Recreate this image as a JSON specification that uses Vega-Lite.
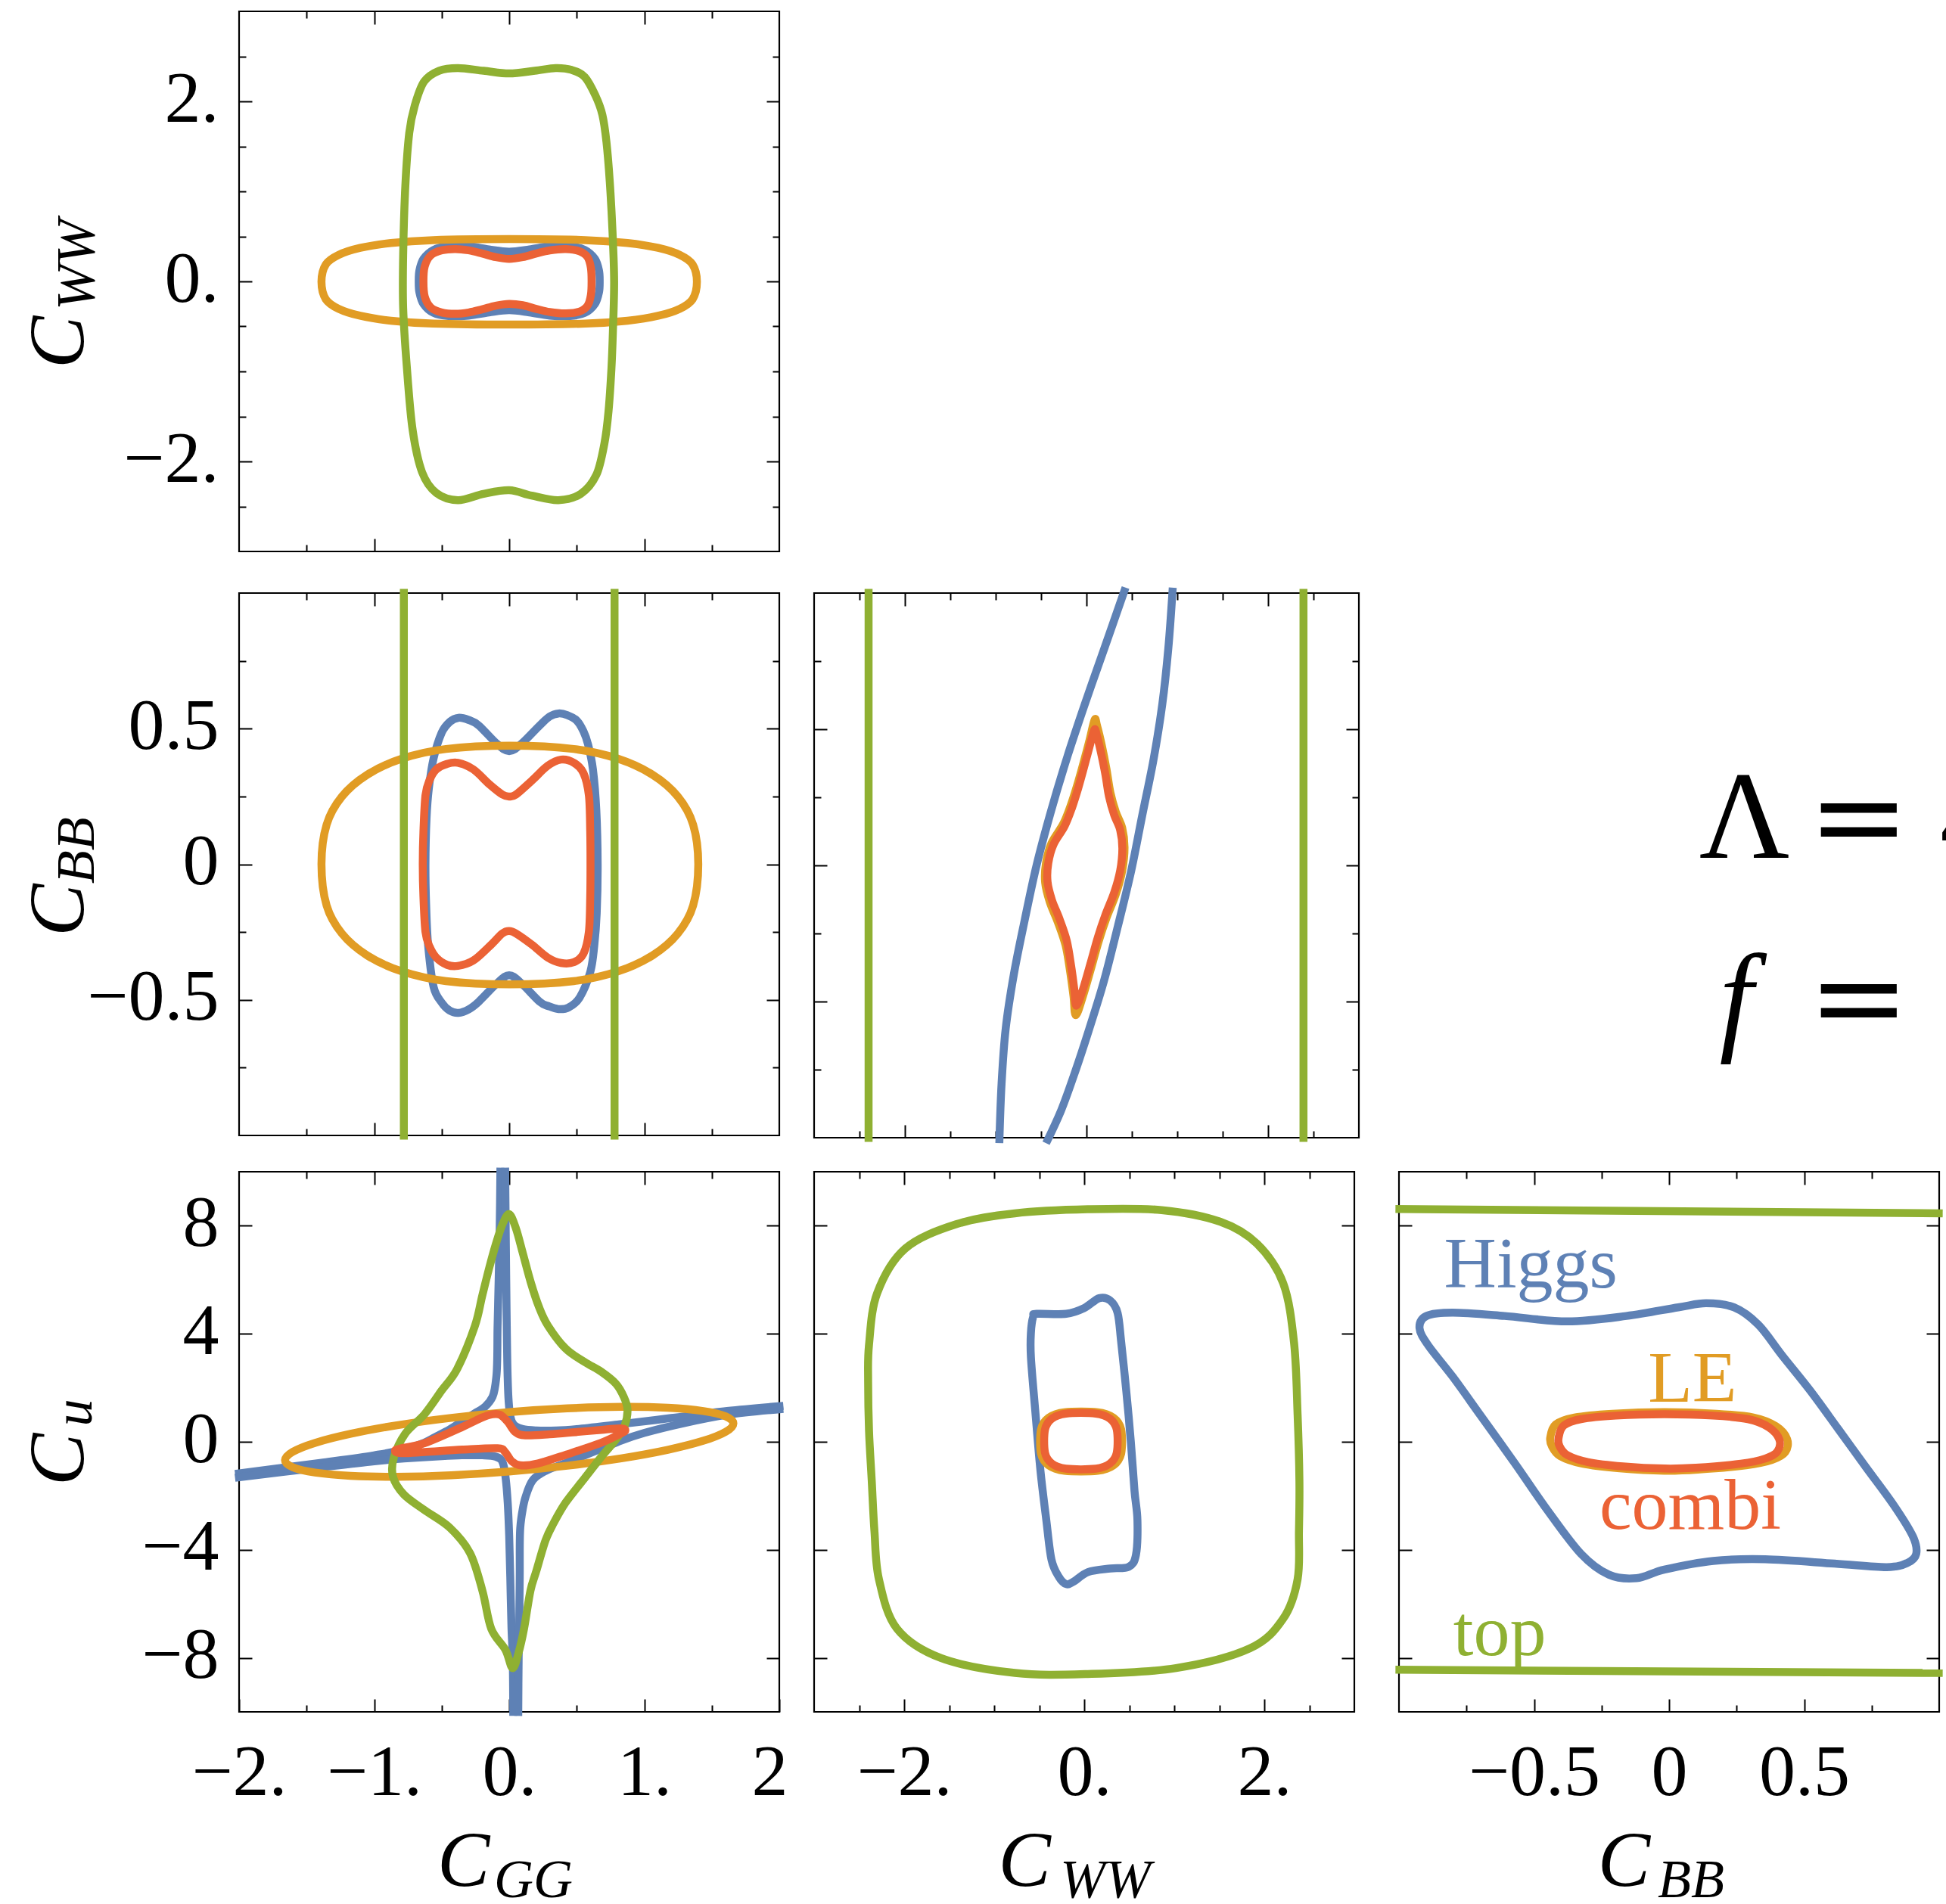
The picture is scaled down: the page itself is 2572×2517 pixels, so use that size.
{
"$schema": "https://vega.github.io/schema/vega-lite/v6.json",
"background": "white",
"padding": {"left": 25, "top": 12, "right": 0, "bottom": 0},
"config": {
  "view": {"stroke": "#000000", "strokeWidth": 2.2},
  "axis": {"grid": false, "domain": false, "tickColor": "#000000", "tickWidth": 2, "labelFont": "Liberation Serif", "labelFontSize": 96, "labelColor": "#000000", "labelOverlap": false, "labelBound": false, "labelFlush": false},
  "text": {"font": "Liberation Serif", "color": "#000000"}
},
"datasets": {
  "p1_higgs": [{"x":0,"y":0.33},{"x":0.15,"y":0.355},{"x":0.3,"y":0.39},{"x":0.45,"y":0.39},{"x":0.56,"y":0.35},{"x":0.635,"y":0.25},{"x":0.665,"y":0.12},{"x":0.67,"y":0},{"x":0.665,"y":-0.12},{"x":0.635,"y":-0.25},{"x":0.56,"y":-0.35},{"x":0.45,"y":-0.385},{"x":0.3,"y":-0.38},{"x":0.15,"y":-0.345},{"x":0,"y":-0.32},{"x":-0.15,"y":-0.345},{"x":-0.3,"y":-0.38},{"x":-0.45,"y":-0.385},{"x":-0.56,"y":-0.35},{"x":-0.635,"y":-0.25},{"x":-0.665,"y":-0.12},{"x":-0.67,"y":0},{"x":-0.665,"y":0.12},{"x":-0.635,"y":0.25},{"x":-0.56,"y":0.35},{"x":-0.45,"y":0.39},{"x":-0.3,"y":0.39},{"x":-0.15,"y":0.355}],
  "p1_le": [{"x":1.39,"y":-0.005},{"x":1.358,"y":0.188},{"x":1.263,"y":0.294},{"x":1.103,"y":0.372},{"x":0.876,"y":0.427},{"x":0.564,"y":0.459},{"x":0,"y":0.47},{"x":-0.564,"y":0.459},{"x":-0.876,"y":0.427},{"x":-1.103,"y":0.372},{"x":-1.263,"y":0.294},{"x":-1.358,"y":0.188},{"x":-1.39,"y":-0.005},{"x":-1.358,"y":-0.198},{"x":-1.263,"y":-0.304},{"x":-1.103,"y":-0.382},{"x":-0.876,"y":-0.437},{"x":-0.564,"y":-0.469},{"x":0,"y":-0.48},{"x":0.564,"y":-0.469},{"x":0.876,"y":-0.437},{"x":1.103,"y":-0.382},{"x":1.263,"y":-0.304},{"x":1.358,"y":-0.198}],
  "p1_top": [{"x":0,"y":2.31},{"x":0.19,"y":2.34},{"x":0.344,"y":2.37},{"x":0.46,"y":2.35},{"x":0.56,"y":2.27},{"x":0.64,"y":2.06},{"x":0.69,"y":1.85},{"x":0.72,"y":1.55},{"x":0.745,"y":1.1},{"x":0.765,"y":0.55},{"x":0.777,"y":0},{"x":0.768,"y":-0.55},{"x":0.757,"y":-0.97},{"x":0.735,"y":-1.45},{"x":0.705,"y":-1.8},{"x":0.645,"y":-2.15},{"x":0.53,"y":-2.36},{"x":0.364,"y":-2.43},{"x":0.167,"y":-2.38},{"x":0,"y":-2.32},{"x":-0.19,"y":-2.36},{"x":-0.38,"y":-2.43},{"x":-0.54,"y":-2.35},{"x":-0.645,"y":-2.12},{"x":-0.715,"y":-1.65},{"x":-0.757,"y":-0.97},{"x":-0.785,"y":-0.3},{"x":-0.785,"y":0.3},{"x":-0.769,"y":1.06},{"x":-0.74,"y":1.65},{"x":-0.7,"y":1.95},{"x":-0.63,"y":2.22},{"x":-0.52,"y":2.34},{"x":-0.38,"y":2.37},{"x":-0.19,"y":2.34}],
  "p1_combi": [{"x":0,"y":0.25},{"x":0.1,"y":0.27},{"x":0.2,"y":0.31},{"x":0.3,"y":0.345},{"x":0.42,"y":0.36},{"x":0.52,"y":0.335},{"x":0.58,"y":0.27},{"x":0.605,"y":0.15},{"x":0.61,"y":0},{"x":0.605,"y":-0.15},{"x":0.58,"y":-0.27},{"x":0.52,"y":-0.335},{"x":0.42,"y":-0.355},{"x":0.3,"y":-0.34},{"x":0.2,"y":-0.305},{"x":0.1,"y":-0.265},{"x":0,"y":-0.25},{"x":-0.1,"y":-0.27},{"x":-0.2,"y":-0.31},{"x":-0.3,"y":-0.345},{"x":-0.4,"y":-0.36},{"x":-0.5,"y":-0.345},{"x":-0.58,"y":-0.29},{"x":-0.625,"y":-0.17},{"x":-0.635,"y":0},{"x":-0.625,"y":0.17},{"x":-0.58,"y":0.29},{"x":-0.5,"y":0.345},{"x":-0.4,"y":0.36},{"x":-0.3,"y":0.345},{"x":-0.2,"y":0.31},{"x":-0.1,"y":0.27}],
  "p2_higgs": [{"x":0,"y":0.417},{"x":0.09,"y":0.444},{"x":0.226,"y":0.512},{"x":0.3,"y":0.545},{"x":0.365,"y":0.556},{"x":0.43,"y":0.55},{"x":0.5,"y":0.53},{"x":0.55,"y":0.49},{"x":0.585,"y":0.44},{"x":0.62,"y":0.35},{"x":0.645,"y":0.2},{"x":0.655,"y":0},{"x":0.648,"y":-0.18},{"x":0.63,"y":-0.3},{"x":0.6,"y":-0.398},{"x":0.52,"y":-0.493},{"x":0.44,"y":-0.528},{"x":0.365,"y":-0.534},{"x":0.29,"y":-0.523},{"x":0.226,"y":-0.507},{"x":0.09,"y":-0.439},{"x":0,"y":-0.409},{"x":-0.09,"y":-0.439},{"x":-0.226,"y":-0.507},{"x":-0.3,"y":-0.535},{"x":-0.376,"y":-0.548},{"x":-0.44,"y":-0.54},{"x":-0.5,"y":-0.51},{"x":-0.56,"y":-0.452},{"x":-0.6,"y":-0.3},{"x":-0.615,"y":-0.15},{"x":-0.62,"y":0},{"x":-0.612,"y":0.17},{"x":-0.595,"y":0.28},{"x":-0.56,"y":0.39},{"x":-0.5,"y":0.485},{"x":-0.44,"y":0.525},{"x":-0.376,"y":0.54},{"x":-0.3,"y":0.532},{"x":-0.226,"y":0.512},{"x":-0.09,"y":0.444}],
  "p2_le": [{"x":1.4,"y":0},{"x":1.362,"y":0.146},{"x":1.248,"y":0.25},{"x":1.062,"y":0.33},{"x":0.806,"y":0.389},{"x":0.478,"y":0.425},{"x":0.005,"y":0.437},{"x":-0.468,"y":0.425},{"x":-0.796,"y":0.389},{"x":-1.052,"y":0.33},{"x":-1.238,"y":0.25},{"x":-1.352,"y":0.146},{"x":-1.39,"y":0},{"x":-1.352,"y":-0.152},{"x":-1.238,"y":-0.256},{"x":-1.052,"y":-0.336},{"x":-0.796,"y":-0.395},{"x":-0.468,"y":-0.431},{"x":0.005,"y":-0.443},{"x":0.478,"y":-0.431},{"x":0.806,"y":-0.395},{"x":1.062,"y":-0.336},{"x":1.248,"y":-0.256},{"x":1.362,"y":-0.152}],
  "p2_top": [{"k":0,"x":-0.78,"y":-1.015},{"k":0,"x":-0.78,"y":1.015},{"k":1,"x":0.78,"y":-1.015},{"k":1,"x":0.78,"y":1.015}],
  "p2_combi": [{"x":0,"y":0.25},{"x":0.05,"y":0.257},{"x":0.167,"y":0.308},{"x":0.285,"y":0.363},{"x":0.384,"y":0.386},{"x":0.48,"y":0.374},{"x":0.55,"y":0.336},{"x":0.59,"y":0.254},{"x":0.6,"y":0.12},{"x":0.602,"y":0},{"x":0.6,"y":-0.12},{"x":0.59,"y":-0.249},{"x":0.55,"y":-0.33},{"x":0.48,"y":-0.361},{"x":0.384,"y":-0.364},{"x":0.285,"y":-0.344},{"x":0.167,"y":-0.296},{"x":0.05,"y":-0.255},{"x":0,"y":-0.246},{"x":-0.05,"y":-0.255},{"x":-0.147,"y":-0.303},{"x":-0.266,"y":-0.355},{"x":-0.38,"y":-0.375},{"x":-0.46,"y":-0.371},{"x":-0.54,"y":-0.344},{"x":-0.59,"y":-0.303},{"x":-0.62,"y":-0.249},{"x":-0.635,"y":-0.12},{"x":-0.64,"y":0},{"x":-0.635,"y":0.12},{"x":-0.62,"y":0.254},{"x":-0.59,"y":0.31},{"x":-0.54,"y":0.35},{"x":-0.46,"y":0.37},{"x":-0.38,"y":0.374},{"x":-0.266,"y":0.35},{"x":-0.147,"y":0.295},{"x":-0.05,"y":0.257}],
  "p3_higgs": [{"k":0,"x":0.43,"y":1.02},{"k":0,"x":0.2,"y":0.8},{"k":0,"x":-0.01,"y":0.6},{"k":0,"x":-0.21,"y":0.4},{"k":0,"x":-0.39,"y":0.2},{"k":0,"x":-0.55,"y":0},{"k":0,"x":-0.68,"y":-0.2},{"k":0,"x":-0.8,"y":-0.4},{"k":0,"x":-0.89,"y":-0.6},{"k":0,"x":-0.935,"y":-0.8},{"k":0,"x":-0.96,"y":-1.02},{"k":1,"x":0.95,"y":1.02},{"k":1,"x":0.901,"y":0.796},{"k":1,"x":0.835,"y":0.592},{"k":1,"x":0.738,"y":0.388},{"k":1,"x":0.615,"y":0.185},{"k":1,"x":0.493,"y":-0.019},{"k":1,"x":0.346,"y":-0.223},{"k":1,"x":0.191,"y":-0.426},{"k":1,"x":0.028,"y":-0.603},{"k":1,"x":-0.119,"y":-0.752},{"k":1,"x":-0.282,"y":-0.902},{"k":1,"x":-0.445,"y":-1.02}],
  "p3_le": [{"x":0.09,"y":0.535},{"x":0.03,"y":0.455},{"x":-0.039,"y":0.369},{"x":-0.1,"y":0.297},{"x":-0.169,"y":0.225},{"x":-0.255,"y":0.153},{"x":-0.386,"y":0.081},{"x":-0.446,"y":0.008},{"x":-0.455,"y":-0.064},{"x":-0.403,"y":-0.136},{"x":-0.316,"y":-0.208},{"x":-0.23,"y":-0.294},{"x":-0.178,"y":-0.394},{"x":-0.143,"y":-0.48},{"x":-0.118,"y":-0.55},{"x":-0.039,"y":-0.48},{"x":0.048,"y":-0.381},{"x":0.134,"y":-0.279},{"x":0.22,"y":-0.193},{"x":0.323,"y":-0.106},{"x":0.393,"y":-0.02},{"x":0.419,"y":0.066},{"x":0.393,"y":0.138},{"x":0.323,"y":0.196},{"x":0.263,"y":0.268},{"x":0.22,"y":0.354},{"x":0.169,"y":0.44},{"x":0.117,"y":0.512}],
  "p3_top": [{"k":0,"x":-2.4,"y":-1.015},{"k":0,"x":-2.4,"y":1.015},{"k":1,"x":2.39,"y":-1.015},{"k":1,"x":2.39,"y":1.015}],
  "p3_combi": [{"x":0.085,"y":0.497},{"x":0.028,"y":0.429},{"x":-0.037,"y":0.348},{"x":-0.094,"y":0.28},{"x":-0.159,"y":0.212},{"x":-0.241,"y":0.144},{"x":-0.364,"y":0.076},{"x":-0.421,"y":0.008},{"x":-0.429,"y":-0.06},{"x":-0.38,"y":-0.128},{"x":-0.298,"y":-0.196},{"x":-0.217,"y":-0.277},{"x":-0.168,"y":-0.372},{"x":-0.135,"y":-0.453},{"x":-0.111,"y":-0.515},{"x":-0.037,"y":-0.453},{"x":0.045,"y":-0.359},{"x":0.126,"y":-0.263},{"x":0.208,"y":-0.182},{"x":0.305,"y":-0.1},{"x":0.371,"y":-0.019},{"x":0.395,"y":0.062},{"x":0.371,"y":0.13},{"x":0.305,"y":0.185},{"x":0.248,"y":0.253},{"x":0.208,"y":0.334},{"x":0.159,"y":0.415},{"x":0.11,"y":0.483}],
  "p4_higgs": [{"k":0,"x":-0.065,"y":10.15},{"k":0,"x":-0.07,"y":8},{"k":0,"x":-0.078,"y":6},{"k":0,"x":-0.086,"y":4.3},{"k":0,"x":-0.095,"y":2.42},{"k":0,"x":-0.123,"y":1.67},{"k":0,"x":-0.179,"y":1.3},{"k":0,"x":-0.254,"y":1.06},{"k":0,"x":-0.33,"y":0.82},{"k":0,"x":-0.44,"y":0.46},{"k":0,"x":-0.55,"y":0.17},{"k":0,"x":-0.627,"y":-0.03},{"k":0,"x":-0.78,"y":-0.29},{"k":0,"x":-1.0,"y":-0.5},{"k":0,"x":-1.4,"y":-0.78},{"k":0,"x":-2.03,"y":-1.19},
    {"k":1,"x":-0.03,"y":10.15},{"k":1,"x":-0.026,"y":8},{"k":1,"x":-0.022,"y":6},{"k":1,"x":-0.018,"y":4.3},{"k":1,"x":-0.012,"y":2.5},{"k":1,"x":-0.004,"y":1.5},{"k":1,"x":0.008,"y":0.95},{"k":1,"x":0.025,"y":0.7},{"k":1,"x":0.05,"y":0.57},{"k":1,"x":0.1,"y":0.47},{"k":1,"x":0.2,"y":0.42},{"k":1,"x":0.35,"y":0.42},{"k":1,"x":0.5,"y":0.47},{"k":1,"x":0.8,"y":0.64},{"k":1,"x":1.2,"y":0.88},{"k":1,"x":1.613,"y":1.14},{"k":1,"x":2.03,"y":1.33},
    {"k":2,"x":0.03,"y":-10.15},{"k":2,"x":0.026,"y":-8},{"k":2,"x":0.017,"y":-6.9},{"k":2,"x":0.008,"y":-5},{"k":2,"x":0,"y":-3.5},{"k":2,"x":-0.011,"y":-2.25},{"k":2,"x":-0.025,"y":-1.4},{"k":2,"x":-0.04,"y":-0.9},{"k":2,"x":-0.06,"y":-0.66},{"k":2,"x":-0.1,"y":-0.55},{"k":2,"x":-0.2,"y":-0.5},{"k":2,"x":-0.35,"y":-0.5},{"k":2,"x":-0.5,"y":-0.53},{"k":2,"x":-0.78,"y":-0.62},{"k":2,"x":-1.0,"y":-0.72},{"k":2,"x":-1.4,"y":-0.95},{"k":2,"x":-2.03,"y":-1.33},
    {"k":3,"x":0.067,"y":-10.15},{"k":3,"x":0.07,"y":-8},{"k":3,"x":0.074,"y":-6.9},{"k":3,"x":0.078,"y":-5},{"k":3,"x":0.082,"y":-3.18},{"k":3,"x":0.1,"y":-2.5},{"k":3,"x":0.12,"y":-2.06},{"k":3,"x":0.176,"y":-1.41},{"k":3,"x":0.269,"y":-1.08},{"k":3,"x":0.4,"y":-0.82},{"k":3,"x":0.55,"y":-0.52},{"k":3,"x":0.7,"y":-0.22},{"k":3,"x":0.83,"y":0.05},{"k":3,"x":1.0,"y":0.33},{"k":3,"x":1.3,"y":0.7},{"k":3,"x":1.613,"y":1.0},{"k":3,"x":2.03,"y":1.22}],
  "p4_le": [{"x":1.66,"y":0.68},{"x":1.603,"y":0.942},{"x":1.438,"y":1.139},{"x":1.174,"y":1.259},{"x":0.83,"y":1.293},{"x":0.43,"y":1.238},{"x":0,"y":1.1},{"x":-0.43,"y":0.886},{"x":-0.83,"y":0.613},{"x":-1.174,"y":0.297},{"x":-1.438,"y":-0.039},{"x":-1.603,"y":-0.372},{"x":-1.66,"y":-0.68},{"x":-1.603,"y":-0.942},{"x":-1.438,"y":-1.139},{"x":-1.174,"y":-1.259},{"x":-0.83,"y":-1.293},{"x":-0.43,"y":-1.238},{"x":0,"y":-1.1},{"x":0.43,"y":-0.886},{"x":0.83,"y":-0.613},{"x":1.174,"y":-0.297},{"x":1.438,"y":0.039},{"x":1.603,"y":0.372}],
  "p4_top": [{"x":0,"y":8.43},{"x":0.05,"y":7.9},{"x":0.1,"y":7.0},{"x":0.16,"y":5.9},{"x":0.22,"y":5.0},{"x":0.287,"y":4.3},{"x":0.418,"y":3.45},{"x":0.56,"y":2.95},{"x":0.68,"y":2.6},{"x":0.79,"y":2.15},{"x":0.848,"y":1.67},{"x":0.876,"y":1.2},{"x":0.855,"y":0.6},{"x":0.79,"y":0.08},{"x":0.68,"y":-0.57},{"x":0.55,"y":-1.4},{"x":0.418,"y":-2.25},{"x":0.33,"y":-3.0},{"x":0.269,"y":-3.65},{"x":0.2,"y":-4.8},{"x":0.157,"y":-5.52},{"x":0.11,"y":-6.92},{"x":0.07,"y":-7.8},{"x":0.025,"y":-8.38},{"x":-0.028,"y":-7.7},{"x":-0.133,"y":-6.92},{"x":-0.198,"y":-5.52},{"x":-0.29,"y":-4.12},{"x":-0.44,"y":-3.18},{"x":-0.627,"y":-2.53},{"x":-0.78,"y":-1.95},{"x":-0.86,"y":-1.3},{"x":-0.855,"y":-0.6},{"x":-0.77,"y":0.3},{"x":-0.627,"y":1.02},{"x":-0.5,"y":1.9},{"x":-0.385,"y":2.7},{"x":-0.254,"y":4.29},{"x":-0.2,"y":5.4},{"x":-0.15,"y":6.4},{"x":-0.1,"y":7.3},{"x":-0.05,"y":8.05}],
  "p4_combi": [{"x":-0.845,"y":-0.33},{"x":-0.8,"y":-0.24},{"x":-0.627,"y":-0.05},{"x":-0.347,"y":0.55},{"x":-0.2,"y":0.9},{"x":-0.123,"y":1.02},{"x":-0.067,"y":1.0},{"x":-0.011,"y":0.74},{"x":0.045,"y":0.36},{"x":0.12,"y":0.24},{"x":0.3,"y":0.28},{"x":0.493,"y":0.36},{"x":0.7,"y":0.45},{"x":0.829,"y":0.5},{"x":0.86,"y":0.42},{"x":0.829,"y":0.31},{"x":0.68,"y":-0.04},{"x":0.418,"y":-0.48},{"x":0.213,"y":-0.8},{"x":0.082,"y":-0.87},{"x":0.017,"y":-0.71},{"x":-0.03,"y":-0.38},{"x":-0.086,"y":-0.24},{"x":-0.347,"y":-0.29},{"x":-0.627,"y":-0.38},{"x":-0.8,"y":-0.42}],
  "p5_higgs": [{"x":-0.567,"y":4.63},{"x":-0.527,"y":4.74},{"x":-0.2,"y":4.74},{"x":0.003,"y":4.96},{"x":0.167,"y":5.32},{"x":0.289,"y":5.23},{"x":0.371,"y":4.77},{"x":0.411,"y":3.68},{"x":0.468,"y":1.85},{"x":0.517,"y":0.03},{"x":0.558,"y":-1.8},{"x":0.591,"y":-2.9},{"x":0.575,"y":-4.18},{"x":0.493,"y":-4.63},{"x":0.289,"y":-4.69},{"x":0.044,"y":-4.82},{"x":-0.119,"y":-5.18},{"x":-0.2,"y":-5.27},{"x":-0.282,"y":-5.0},{"x":-0.364,"y":-4.36},{"x":-0.421,"y":-2.9},{"x":-0.486,"y":-1.07},{"x":-0.543,"y":1.12},{"x":-0.592,"y":3.13},{"x":-0.592,"y":4.04}],
  "p5_le": [{"x":0.42,"y":0.01},{"x":0.41,"y":0.461},{"x":0.378,"y":0.709},{"x":0.326,"y":0.891},{"x":0.252,"y":1.018},{"x":0.15,"y":1.095},{"x":-0.035,"y":1.12},{"x":-0.22,"y":1.095},{"x":-0.322,"y":1.018},{"x":-0.396,"y":0.891},{"x":-0.448,"y":0.709},{"x":-0.48,"y":0.461},{"x":-0.49,"y":0.01},{"x":-0.48,"y":-0.441},{"x":-0.448,"y":-0.689},{"x":-0.396,"y":-0.871},{"x":-0.322,"y":-0.998},{"x":-0.22,"y":-1.075},{"x":-0.035,"y":-1.1},{"x":0.15,"y":-1.075},{"x":0.252,"y":-0.998},{"x":0.326,"y":-0.871},{"x":0.378,"y":-0.689},{"x":0.41,"y":-0.441}],
  "p5_top": [{"x":0.04,"y":8.61},{"x":0.86,"y":8.58},{"x":1.51,"y":8.15},{"x":1.92,"y":7.33},{"x":2.21,"y":5.87},{"x":2.33,"y":3.68},{"x":2.37,"y":1.0},{"x":2.39,"y":-1.44},{"x":2.385,"y":-3.3},{"x":2.37,"y":-5.09},{"x":2.21,"y":-6.55},{"x":1.84,"y":-7.65},{"x":1.02,"y":-8.38},{"x":0.04,"y":-8.6},{"x":-0.77,"y":-8.56},{"x":-1.59,"y":-8.01},{"x":-2.08,"y":-6.92},{"x":-2.28,"y":-5.09},{"x":-2.33,"y":-3.3},{"x":-2.36,"y":-1.44},{"x":-2.39,"y":0.4},{"x":-2.4,"y":2.22},{"x":-2.39,"y":3.6},{"x":-2.3,"y":5.5},{"x":-1.99,"y":7.15},{"x":-1.42,"y":8.06},{"x":-0.77,"y":8.46}],
  "p5_combi": [{"x":0.371,"y":0.025},{"x":0.362,"y":0.449},{"x":0.334,"y":0.683},{"x":0.287,"y":0.854},{"x":0.22,"y":0.974},{"x":0.129,"y":1.046},{"x":-0.037,"y":1.07},{"x":-0.203,"y":1.046},{"x":-0.294,"y":0.974},{"x":-0.361,"y":0.854},{"x":-0.408,"y":0.683},{"x":-0.436,"y":0.449},{"x":-0.445,"y":0.025},{"x":-0.436,"y":-0.399},{"x":-0.408,"y":-0.633},{"x":-0.361,"y":-0.804},{"x":-0.294,"y":-0.924},{"x":-0.203,"y":-0.996},{"x":-0.037,"y":-1.02},{"x":0.129,"y":-0.996},{"x":0.22,"y":-0.924},{"x":0.287,"y":-0.804},{"x":0.334,"y":-0.633},{"x":0.362,"y":-0.399}],
  "p6_higgs": [{"x":-0.924,"y":4.21},{"x":-0.898,"y":4.66},{"x":-0.801,"y":4.78},{"x":-0.609,"y":4.66},{"x":-0.377,"y":4.46},{"x":-0.158,"y":4.66},{"x":0.034,"y":4.98},{"x":0.137,"y":5.13},{"x":0.24,"y":4.98},{"x":0.33,"y":4.34},{"x":0.42,"y":3.18},{"x":0.523,"y":1.89},{"x":0.626,"y":0.48},{"x":0.729,"y":-0.94},{"x":0.832,"y":-2.35},{"x":0.903,"y":-3.51},{"x":0.915,"y":-4.15},{"x":0.883,"y":-4.48},{"x":0.806,"y":-4.64},{"x":0.613,"y":-4.51},{"x":0.356,"y":-4.35},{"x":0.163,"y":-4.41},{"x":-0.017,"y":-4.73},{"x":-0.12,"y":-5.05},{"x":-0.223,"y":-4.92},{"x":-0.326,"y":-4.15},{"x":-0.454,"y":-2.48},{"x":-0.57,"y":-0.81},{"x":-0.699,"y":0.99},{"x":-0.801,"y":2.41},{"x":-0.891,"y":3.56}],
  "p6_le": [{"x":-0.44,"y":0.15},{"x":-0.42,"y":0.64},{"x":-0.35,"y":0.9},{"x":-0.21,"y":1.04},{"x":-0.018,"y":1.1},{"x":0.175,"y":1.04},{"x":0.312,"y":0.9},{"x":0.395,"y":0.58},{"x":0.437,"y":0.1},{"x":0.43,"y":-0.38},{"x":0.38,"y":-0.67},{"x":0.285,"y":-0.87},{"x":0.106,"y":-1.03},{"x":-0.018,"y":-1.07},{"x":-0.183,"y":-0.98},{"x":-0.321,"y":-0.81},{"x":-0.403,"y":-0.53},{"x":-0.433,"y":-0.18}],
  "p6_top": [{"k":0,"x":-1.013,"y":8.62},{"k":0,"x":1.013,"y":8.46},{"k":1,"x":-1.013,"y":-8.44},{"k":1,"x":1.013,"y":-8.56}],
  "p6_combi": [{"x":-0.409,"y":0.15},{"x":-0.39,"y":0.6},{"x":-0.326,"y":0.84},{"x":-0.197,"y":0.97},{"x":-0.017,"y":1.02},{"x":0.163,"y":0.97},{"x":0.292,"y":0.84},{"x":0.369,"y":0.54},{"x":0.408,"y":0.09},{"x":0.401,"y":-0.36},{"x":0.356,"y":-0.62},{"x":0.266,"y":-0.81},{"x":0.099,"y":-0.96},{"x":-0.017,"y":-0.99},{"x":-0.171,"y":-0.91},{"x":-0.3,"y":-0.75},{"x":-0.377,"y":-0.49},{"x":-0.405,"y":-0.17}],
  "p6_labels": [{"s":"Higgs","x":-0.833,"y":5.72},{"s":"LE","x":-0.078,"y":1.48},{"s":"combi","x":-0.258,"y":-3.22},{"s":"top","x":-0.799,"y":-7.91}]
},
"concat": [
  {
    "width": 714, "height": 714,
    "layer": [
      {
        "encoding": {
          "x": {"field": "x", "type": "quantitative", "scale": {"domain": [-2, 2], "nice": false}, "axis": {"orient": "bottom", "title": null, "labels": false, "values": [-1.5,-1,-0.5,0,0.5,1,1.5], "tickSize": {"condition": {"test": "datum.value % 1 === 0", "value": -17}, "value": -9}}},
          "y": {"field": "y", "type": "quantitative", "scale": {"domain": [-3, 3], "nice": false}, "axis": {"orient": "left", "title": null, "values": [-2.5,-2,-1.5,-1,-0.5,0,0.5,1,1.5,2,2.5], "labelExpr": "datum.value % 2 === 0 ? (datum.value < 0 ? '−' : '') + abs(datum.value) + '.' : ''", "labelPadding": 44, "labelOffset": -3, "tickSize": {"condition": {"test": "datum.value % 2 === 0", "value": -17}, "value": -9}}},
          "order": {"field": "i", "type": "quantitative"}
        },
        "layer": [
          {"data": {"name": "p1_higgs"}, "transform": [{"window": [{"op": "row_number", "as": "i"}]}], "mark": {"type": "line", "color": "#5E81B5", "strokeWidth": 10.5, "interpolate": "cardinal-closed"}},
          {"data": {"name": "p1_le"}, "transform": [{"window": [{"op": "row_number", "as": "i"}]}], "mark": {"type": "line", "color": "#E19C24", "strokeWidth": 10.5, "interpolate": "cardinal-closed"}},
          {"data": {"name": "p1_top"}, "transform": [{"window": [{"op": "row_number", "as": "i"}]}], "mark": {"type": "line", "color": "#8FB032", "strokeWidth": 10.5, "interpolate": "cardinal-closed"}},
          {"data": {"name": "p1_combi"}, "transform": [{"window": [{"op": "row_number", "as": "i"}]}], "mark": {"type": "line", "color": "#EB6235", "strokeWidth": 10.5, "interpolate": "cardinal-closed"}}
        ]
      },
      {
        "data": {"values": [{}]},
        "mark": {"type": "point", "opacity": 0},
        "encoding": {
          "x": {"datum": 0, "type": "quantitative", "scale": {"domain": [-2, 2], "nice": false}, "axis": {"orient": "top", "title": null, "labels": false, "values": [-1.5,-1,-0.5,0,0.5,1,1.5], "tickSize": {"condition": {"test": "datum.value % 1 === 0", "value": -17}, "value": -9}}},
          "y": {"datum": 0, "type": "quantitative", "scale": {"domain": [-3, 3], "nice": false}, "axis": {"orient": "right", "title": null, "labels": false, "values": [-2.5,-2,-1.5,-1,-0.5,0,0.5,1,1.5,2,2.5], "tickSize": {"condition": {"test": "datum.value % 2 === 0", "value": -17}, "value": -9}}}
        }
      },
      {
        "data": {"values": [{}]},
        "mark": {"type": "text", "fontStyle": "italic", "fontSize": 104, "angle": 270, "align": "left", "baseline": "alphabetic"},
        "encoding": {"text": {"value": "C"}, "x": {"datum": -3.156, "type": "quantitative", "scale": {"domain": [-2, 2], "nice": false}, "axis": null}, "y": {"datum": -0.966, "type": "quantitative", "scale": {"domain": [-3, 3], "nice": false}, "axis": null}}
      },
      {
        "data": {"values": [{}]},
        "mark": {"type": "text", "fontStyle": "italic", "fontSize": 72, "angle": 270, "align": "left", "baseline": "alphabetic"},
        "encoding": {"text": {"value": "WW"}, "x": {"datum": -3.076, "type": "quantitative", "scale": {"domain": [-2, 2], "nice": false}, "axis": null}, "y": {"datum": -0.319, "type": "quantitative", "scale": {"domain": [-3, 3], "nice": false}, "axis": null}}
      }
    ],
    "resolve": {"axis": {"x": "independent", "y": "independent"}}
  },
  {"width": 727, "height": 724, "view": {"stroke": null}, "data": {"values": []}, "mark": "point"},
  {"width": 1, "height": 1, "view": {"stroke": null}, "data": {"values": []}, "mark": "point"},
  {
    "width": 714, "height": 717,
    "layer": [
      {
        "encoding": {
          "x": {"field": "x", "type": "quantitative", "scale": {"domain": [-2, 2], "nice": false}, "axis": {"orient": "bottom", "title": null, "labels": false, "values": [-1.5,-1,-0.5,0,0.5,1,1.5], "tickSize": {"condition": {"test": "datum.value % 1 === 0", "value": -17}, "value": -9}}},
          "y": {"field": "y", "type": "quantitative", "scale": {"domain": [-1, 1], "nice": false}, "axis": {"orient": "left", "title": null, "values": [-0.75,-0.5,-0.25,0,0.25,0.5,0.75], "labelExpr": "datum.value % 0.5 === 0 ? (datum.value < 0 ? '−' : '') + abs(datum.value) : ''", "labelPadding": 44, "labelOffset": -3, "tickSize": {"condition": {"test": "datum.value % 0.5 === 0", "value": -17}, "value": -9}}},
          "detail": {"field": "k", "type": "nominal"},
          "order": {"field": "i", "type": "quantitative"}
        },
        "layer": [
          {"data": {"name": "p2_higgs"}, "transform": [{"window": [{"op": "row_number", "as": "i"}]}], "mark": {"type": "line", "color": "#5E81B5", "strokeWidth": 10.5, "interpolate": "cardinal-closed"}},
          {"data": {"name": "p2_le"}, "transform": [{"window": [{"op": "row_number", "as": "i"}]}], "mark": {"type": "line", "color": "#E19C24", "strokeWidth": 10.5, "interpolate": "cardinal-closed"}},
          {"data": {"name": "p2_top"}, "transform": [{"window": [{"op": "row_number", "as": "i"}]}], "mark": {"type": "line", "color": "#8FB032", "strokeWidth": 10.5}},
          {"data": {"name": "p2_combi"}, "transform": [{"window": [{"op": "row_number", "as": "i"}]}], "mark": {"type": "line", "color": "#EB6235", "strokeWidth": 10.5, "interpolate": "cardinal-closed"}}
        ]
      },
      {
        "data": {"values": [{}]},
        "mark": {"type": "point", "opacity": 0},
        "encoding": {
          "x": {"datum": 0, "type": "quantitative", "scale": {"domain": [-2, 2], "nice": false}, "axis": {"orient": "top", "title": null, "labels": false, "values": [-1.5,-1,-0.5,0,0.5,1,1.5], "tickSize": {"condition": {"test": "datum.value % 1 === 0", "value": -17}, "value": -9}}},
          "y": {"datum": 0, "type": "quantitative", "scale": {"domain": [-1, 1], "nice": false}, "axis": {"orient": "right", "title": null, "labels": false, "values": [-0.75,-0.5,-0.25,0,0.25,0.5,0.75], "tickSize": {"condition": {"test": "datum.value % 0.5 === 0", "value": -17}, "value": -9}}}
        }
      },
      {
        "data": {"values": [{}]},
        "mark": {"type": "text", "fontStyle": "italic", "fontSize": 104, "angle": 270, "align": "left", "baseline": "alphabetic"},
        "encoding": {"text": {"value": "C"}, "x": {"datum": -3.156, "type": "quantitative", "scale": {"domain": [-2, 2], "nice": false}, "axis": null}, "y": {"datum": -0.266, "type": "quantitative", "scale": {"domain": [-1, 1], "nice": false}, "axis": null}}
      },
      {
        "data": {"values": [{}]},
        "mark": {"type": "text", "fontStyle": "italic", "fontSize": 72, "angle": 270, "align": "left", "baseline": "alphabetic"},
        "encoding": {"text": {"value": "BB"}, "x": {"datum": -3.076, "type": "quantitative", "scale": {"domain": [-2, 2], "nice": false}, "axis": null}, "y": {"datum": -0.072, "type": "quantitative", "scale": {"domain": [-1, 1], "nice": false}, "axis": null}}
      }
    ],
    "resolve": {"axis": {"x": "independent", "y": "independent"}}
  },
  {
    "width": 720, "height": 720,
    "layer": [
      {
        "encoding": {
          "x": {"field": "x", "type": "quantitative", "scale": {"domain": [-3, 3], "nice": false}, "axis": {"orient": "bottom", "title": null, "labels": false, "values": [-2.5,-2,-1.5,-1,-0.5,0,0.5,1,1.5,2,2.5], "tickSize": {"condition": {"test": "datum.value % 2 === 0", "value": -17}, "value": -9}}},
          "y": {"field": "y", "type": "quantitative", "scale": {"domain": [-1, 1], "nice": false}, "axis": {"orient": "left", "title": null, "labels": false, "values": [-0.75,-0.5,-0.25,0,0.25,0.5,0.75], "tickSize": {"condition": {"test": "datum.value % 0.5 === 0", "value": -17}, "value": -9}}},
          "detail": {"field": "k", "type": "nominal"},
          "order": {"field": "i", "type": "quantitative"}
        },
        "layer": [
          {"data": {"name": "p3_higgs"}, "transform": [{"window": [{"op": "row_number", "as": "i"}]}], "mark": {"type": "line", "color": "#5E81B5", "strokeWidth": 10.5, "interpolate": "catmull-rom"}},
          {"data": {"name": "p3_le"}, "transform": [{"window": [{"op": "row_number", "as": "i"}]}], "mark": {"type": "line", "color": "#E19C24", "strokeWidth": 10.5, "interpolate": "cardinal-closed"}},
          {"data": {"name": "p3_top"}, "transform": [{"window": [{"op": "row_number", "as": "i"}]}], "mark": {"type": "line", "color": "#8FB032", "strokeWidth": 10.5}},
          {"data": {"name": "p3_combi"}, "transform": [{"window": [{"op": "row_number", "as": "i"}]}], "mark": {"type": "line", "color": "#EB6235", "strokeWidth": 10.5, "interpolate": "cardinal-closed"}}
        ]
      },
      {
        "data": {"values": [{}]},
        "mark": {"type": "point", "opacity": 0},
        "encoding": {
          "x": {"datum": 0, "type": "quantitative", "scale": {"domain": [-3, 3], "nice": false}, "axis": {"orient": "top", "title": null, "labels": false, "values": [-2.5,-2,-1.5,-1,-0.5,0,0.5,1,1.5,2,2.5], "tickSize": {"condition": {"test": "datum.value % 2 === 0", "value": -17}, "value": -9}}},
          "y": {"datum": 0, "type": "quantitative", "scale": {"domain": [-1, 1], "nice": false}, "axis": {"orient": "right", "title": null, "labels": false, "values": [-0.75,-0.5,-0.25,0,0.25,0.5,0.75], "tickSize": {"condition": {"test": "datum.value % 0.5 === 0", "value": -17}, "value": -9}}}
        }
      }
    ],
    "resolve": {"axis": {"x": "independent", "y": "independent"}}
  },
  {
    "width": 724, "height": 720,
    "view": {"stroke": null},
    "layer": [
      {"data": {"values": [{}]}, "mark": {"type": "text", "fontSize": 165, "align": "left", "baseline": "alphabetic", "clip": true},
       "encoding": {"text": {"value": "Λ"}, "x": {"datum": 0.548, "type": "quantitative", "scale": {"domain": [0, 1], "nice": false}, "axis": null}, "y": {"datum": 0.514, "type": "quantitative", "scale": {"domain": [0, 1], "nice": false}, "axis": null}}},
      {"data": {"values": [{}]}, "mark": {"type": "text", "font": "DejaVu Serif", "fontSize": 160, "align": "left", "baseline": "alphabetic", "clip": true},
       "encoding": {"text": {"value": "="}, "x": {"datum": 0.747, "type": "quantitative", "scale": {"domain": [0, 1], "nice": false}, "axis": null}, "y": {"datum": 0.514, "type": "quantitative", "scale": {"domain": [0, 1], "nice": false}, "axis": null}}},
      {"data": {"values": [{}]}, "mark": {"type": "text", "fontSize": 160, "align": "left", "baseline": "alphabetic", "clip": true},
       "encoding": {"text": {"value": "4 TeV"}, "x": {"datum": 0.9876, "type": "quantitative", "scale": {"domain": [0, 1], "nice": false}, "axis": null}, "y": {"datum": 0.514, "type": "quantitative", "scale": {"domain": [0, 1], "nice": false}, "axis": null}}},
      {"data": {"values": [{}]}, "mark": {"type": "text", "fontStyle": "italic", "fontSize": 160, "align": "left", "baseline": "alphabetic", "clip": true},
       "encoding": {"text": {"value": "f"}, "x": {"datum": 0.585, "type": "quantitative", "scale": {"domain": [0, 1], "nice": false}, "axis": null}, "y": {"datum": 0.182, "type": "quantitative", "scale": {"domain": [0, 1], "nice": false}, "axis": null}}},
      {"data": {"values": [{}]}, "mark": {"type": "text", "font": "DejaVu Serif", "fontSize": 160, "align": "left", "baseline": "alphabetic", "clip": true},
       "encoding": {"text": {"value": "="}, "x": {"datum": 0.747, "type": "quantitative", "scale": {"domain": [0, 1], "nice": false}, "axis": null}, "y": {"datum": 0.182, "type": "quantitative", "scale": {"domain": [0, 1], "nice": false}, "axis": null}}},
      {"data": {"values": [{}]}, "mark": {"type": "text", "fontSize": 160, "align": "left", "baseline": "alphabetic", "clip": true},
       "encoding": {"text": {"value": "1 TeV"}, "x": {"datum": 0.9876, "type": "quantitative", "scale": {"domain": [0, 1], "nice": false}, "axis": null}, "y": {"datum": 0.182, "type": "quantitative", "scale": {"domain": [0, 1], "nice": false}, "axis": null}}}
    ]
  },
  {
    "width": 714, "height": 714,
    "layer": [
      {
        "encoding": {
          "x": {"field": "x", "type": "quantitative", "scale": {"domain": [-2, 2], "nice": false}, "axis": {"orient": "bottom", "title": null, "values": [-2,-1.5,-1,-0.5,0,0.5,1,1.5,2], "labelExpr": "datum.value === 2 ? '2' : datum.value % 1 === 0 ? (datum.value < 0 ? '−' : '') + abs(datum.value) + '.' : ''", "labelPadding": 50, "labelOffset": {"condition": {"test": "datum.value === 2", "value": -13}, "value": 0}, "tickSize": {"condition": {"test": "datum.value % 1 === 0", "value": -17}, "value": -9}}},
          "y": {"field": "y", "type": "quantitative", "scale": {"domain": [-10, 10], "nice": false}, "axis": {"orient": "left", "title": null, "values": [-8,-4,0,4,8], "labelExpr": "(datum.value < 0 ? '−' : '') + abs(datum.value)", "labelPadding": 44, "labelOffset": -3, "tickSize": -17}},
          "detail": {"field": "k", "type": "nominal"},
          "order": {"field": "i", "type": "quantitative"}
        },
        "layer": [
          {"data": {"name": "p4_higgs"}, "transform": [{"window": [{"op": "row_number", "as": "i"}]}], "mark": {"type": "line", "color": "#5E81B5", "strokeWidth": 10.5, "interpolate": "catmull-rom"}},
          {"data": {"name": "p4_le"}, "transform": [{"window": [{"op": "row_number", "as": "i"}]}], "mark": {"type": "line", "color": "#E19C24", "strokeWidth": 10.5, "interpolate": "cardinal-closed"}},
          {"data": {"name": "p4_top"}, "transform": [{"window": [{"op": "row_number", "as": "i"}]}], "mark": {"type": "line", "color": "#8FB032", "strokeWidth": 10.5, "interpolate": "cardinal-closed"}},
          {"data": {"name": "p4_combi"}, "transform": [{"window": [{"op": "row_number", "as": "i"}]}], "mark": {"type": "line", "color": "#EB6235", "strokeWidth": 10.5, "interpolate": "cardinal-closed"}}
        ]
      },
      {
        "data": {"values": [{}]},
        "mark": {"type": "point", "opacity": 0},
        "encoding": {
          "x": {"datum": 0, "type": "quantitative", "scale": {"domain": [-2, 2], "nice": false}, "axis": {"orient": "top", "title": null, "labels": false, "values": [-1.5,-1,-0.5,0,0.5,1,1.5], "tickSize": {"condition": {"test": "datum.value % 1 === 0", "value": -17}, "value": -9}}},
          "y": {"datum": 0, "type": "quantitative", "scale": {"domain": [-10, 10], "nice": false}, "axis": {"orient": "right", "title": null, "labels": false, "values": [-8,-4,0,4,8], "tickSize": -17}}
        }
      },
      {
        "data": {"values": [{}]},
        "mark": {"type": "text", "fontStyle": "italic", "fontSize": 104, "angle": 270, "align": "left", "baseline": "alphabetic"},
        "encoding": {"text": {"value": "C"}, "x": {"datum": -3.156, "type": "quantitative", "scale": {"domain": [-2, 2], "nice": false}, "axis": null}, "y": {"datum": -1.625, "type": "quantitative", "scale": {"domain": [-10, 10], "nice": false}, "axis": null}}
      },
      {
        "data": {"values": [{}]},
        "mark": {"type": "text", "fontStyle": "italic", "fontSize": 72, "angle": 270, "align": "left", "baseline": "alphabetic"},
        "encoding": {"text": {"value": "u"}, "x": {"datum": -3.09, "type": "quantitative", "scale": {"domain": [-2, 2], "nice": false}, "axis": null}, "y": {"datum": 0.577, "type": "quantitative", "scale": {"domain": [-10, 10], "nice": false}, "axis": null}}
      },
      {
        "data": {"values": [{}]},
        "mark": {"type": "text", "fontStyle": "italic", "fontSize": 104, "align": "left", "baseline": "alphabetic"},
        "encoding": {"text": {"value": "C"}, "x": {"datum": -0.532, "type": "quantitative", "scale": {"domain": [-2, 2], "nice": false}, "axis": null}, "y": {"datum": -16.44, "type": "quantitative", "scale": {"domain": [-10, 10], "nice": false}, "axis": null}}
      },
      {
        "data": {"values": [{}]},
        "mark": {"type": "text", "fontStyle": "italic", "fontSize": 72, "align": "left", "baseline": "alphabetic"},
        "encoding": {"text": {"value": "GG"}, "x": {"datum": -0.112, "type": "quantitative", "scale": {"domain": [-2, 2], "nice": false}, "axis": null}, "y": {"datum": -16.86, "type": "quantitative", "scale": {"domain": [-10, 10], "nice": false}, "axis": null}}
      }
    ],
    "resolve": {"axis": {"x": "independent", "y": "independent"}}
  },
  {
    "width": 714, "height": 714,
    "layer": [
      {
        "encoding": {
          "x": {"field": "x", "type": "quantitative", "scale": {"domain": [-3, 3], "nice": false}, "axis": {"orient": "bottom", "title": null, "values": [-2.5,-2,-1.5,-1,-0.5,0,0.5,1,1.5,2,2.5], "labelExpr": "datum.value % 2 === 0 ? (datum.value < 0 ? '−' : '') + abs(datum.value) + '.' : ''", "labelPadding": 50, "tickSize": {"condition": {"test": "datum.value % 2 === 0", "value": -17}, "value": -9}}},
          "y": {"field": "y", "type": "quantitative", "scale": {"domain": [-10, 10], "nice": false}, "axis": {"orient": "left", "title": null, "labels": false, "values": [-8,-4,0,4,8], "tickSize": -17}},
          "order": {"field": "i", "type": "quantitative"}
        },
        "layer": [
          {"data": {"name": "p5_higgs"}, "transform": [{"window": [{"op": "row_number", "as": "i"}]}], "mark": {"type": "line", "color": "#5E81B5", "strokeWidth": 10.5, "interpolate": "cardinal-closed"}},
          {"data": {"name": "p5_le"}, "transform": [{"window": [{"op": "row_number", "as": "i"}]}], "mark": {"type": "line", "color": "#E19C24", "strokeWidth": 10.5, "interpolate": "cardinal-closed"}},
          {"data": {"name": "p5_top"}, "transform": [{"window": [{"op": "row_number", "as": "i"}]}], "mark": {"type": "line", "color": "#8FB032", "strokeWidth": 10.5, "interpolate": "cardinal-closed"}},
          {"data": {"name": "p5_combi"}, "transform": [{"window": [{"op": "row_number", "as": "i"}]}], "mark": {"type": "line", "color": "#EB6235", "strokeWidth": 10.5, "interpolate": "cardinal-closed"}}
        ]
      },
      {
        "data": {"values": [{}]},
        "mark": {"type": "point", "opacity": 0},
        "encoding": {
          "x": {"datum": 0, "type": "quantitative", "scale": {"domain": [-3, 3], "nice": false}, "axis": {"orient": "top", "title": null, "labels": false, "values": [-2.5,-2,-1.5,-1,-0.5,0,0.5,1,1.5,2,2.5], "tickSize": {"condition": {"test": "datum.value % 2 === 0", "value": -17}, "value": -9}}},
          "y": {"datum": 0, "type": "quantitative", "scale": {"domain": [-10, 10], "nice": false}, "axis": {"orient": "right", "title": null, "labels": false, "values": [-8,-4,0,4,8], "tickSize": -17}}
        }
      },
      {
        "data": {"values": [{}]},
        "mark": {"type": "text", "fontStyle": "italic", "fontSize": 104, "align": "left", "baseline": "alphabetic"},
        "encoding": {"text": {"value": "C"}, "x": {"datum": -0.953, "type": "quantitative", "scale": {"domain": [-3, 3], "nice": false}, "axis": null}, "y": {"datum": -16.44, "type": "quantitative", "scale": {"domain": [-10, 10], "nice": false}, "axis": null}}
      },
      {
        "data": {"values": [{}]},
        "mark": {"type": "text", "fontStyle": "italic", "fontSize": 72, "align": "left", "baseline": "alphabetic"},
        "encoding": {"text": {"value": "WW"}, "x": {"datum": -0.269, "type": "quantitative", "scale": {"domain": [-3, 3], "nice": false}, "axis": null}, "y": {"datum": -16.86, "type": "quantitative", "scale": {"domain": [-10, 10], "nice": false}, "axis": null}}
      }
    ],
    "resolve": {"axis": {"x": "independent", "y": "independent"}}
  },
  {
    "width": 714, "height": 714,
    "layer": [
      {
        "encoding": {
          "x": {"field": "x", "type": "quantitative", "scale": {"domain": [-1, 1], "nice": false}, "axis": {"orient": "bottom", "title": null, "values": [-0.75,-0.5,-0.25,0,0.25,0.5,0.75], "labelExpr": "datum.value % 0.5 === 0 ? (datum.value < 0 ? '−' : '') + abs(datum.value) : ''", "labelPadding": 50, "tickSize": {"condition": {"test": "datum.value % 0.5 === 0", "value": -17}, "value": -9}}},
          "y": {"field": "y", "type": "quantitative", "scale": {"domain": [-10, 10], "nice": false}, "axis": {"orient": "left", "title": null, "labels": false, "values": [-8,-4,0,4,8], "tickSize": -17}},
          "detail": {"field": "k", "type": "nominal"},
          "order": {"field": "i", "type": "quantitative"}
        },
        "layer": [
          {"data": {"name": "p6_higgs"}, "transform": [{"window": [{"op": "row_number", "as": "i"}]}], "mark": {"type": "line", "color": "#5E81B5", "strokeWidth": 10.5, "interpolate": "cardinal-closed"}},
          {"data": {"name": "p6_le"}, "transform": [{"window": [{"op": "row_number", "as": "i"}]}], "mark": {"type": "line", "color": "#E19C24", "strokeWidth": 10.5, "interpolate": "cardinal-closed"}},
          {"data": {"name": "p6_top"}, "transform": [{"window": [{"op": "row_number", "as": "i"}]}], "mark": {"type": "line", "color": "#8FB032", "strokeWidth": 10.5}},
          {"data": {"name": "p6_combi"}, "transform": [{"window": [{"op": "row_number", "as": "i"}]}], "mark": {"type": "line", "color": "#EB6235", "strokeWidth": 10.5, "interpolate": "cardinal-closed"}}
        ]
      },
      {
        "data": {"name": "p6_labels"},
        "mark": {"type": "text", "fontSize": 96, "align": "left", "baseline": "alphabetic"},
        "encoding": {
          "text": {"field": "s", "type": "nominal"},
          "color": {"field": "s", "type": "nominal", "scale": {"domain": ["Higgs", "LE", "top", "combi"], "range": ["#5E81B5", "#E19C24", "#8FB032", "#EB6235"]}, "legend": null},
          "x": {"field": "x", "type": "quantitative", "scale": {"domain": [-1, 1], "nice": false}, "axis": {"orient": "top", "title": null, "labels": false, "values": [-0.75,-0.5,-0.25,0,0.25,0.5,0.75], "tickSize": {"condition": {"test": "datum.value % 0.5 === 0", "value": -17}, "value": -9}}},
          "y": {"field": "y", "type": "quantitative", "scale": {"domain": [-10, 10], "nice": false}, "axis": {"orient": "right", "title": null, "labels": false, "values": [-8,-4,0,4,8], "tickSize": -17}}
        }
      },
      {
        "data": {"values": [{}]},
        "mark": {"type": "text", "fontStyle": "italic", "fontSize": 104, "align": "left", "baseline": "alphabetic"},
        "encoding": {"text": {"value": "C"}, "x": {"datum": -0.264, "type": "quantitative", "scale": {"domain": [-1, 1], "nice": false}, "axis": null}, "y": {"datum": -16.44, "type": "quantitative", "scale": {"domain": [-10, 10], "nice": false}, "axis": null}}
      },
      {
        "data": {"values": [{}]},
        "mark": {"type": "text", "fontStyle": "italic", "fontSize": 72, "align": "left", "baseline": "alphabetic"},
        "encoding": {"text": {"value": "BB"}, "x": {"datum": -0.042, "type": "quantitative", "scale": {"domain": [-1, 1], "nice": false}, "axis": null}, "y": {"datum": -16.86, "type": "quantitative", "scale": {"domain": [-10, 10], "nice": false}, "axis": null}}
      }
    ],
    "resolve": {"axis": {"x": "independent", "y": "independent"}}
  }
],
"columns": 3,
"spacing": {"row": 45, "column": 46},
"bounds": "flush"
}
